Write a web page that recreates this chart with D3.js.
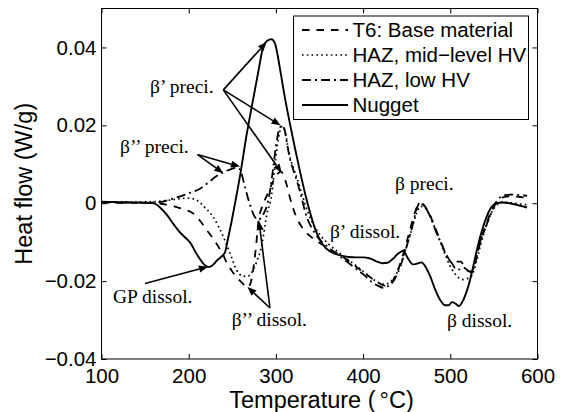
<!DOCTYPE html>
<html>
<head>
<meta charset="utf-8">
<script src="https://cdn.jsdelivr.net/npm/d3@7"></script>
<style>
  html, body { margin: 0; padding: 0; background: #fff; }
  svg { display: block; }
</style>
</head>
<body>
<svg id="chart" width="568" height="412"></svg>
<script>
// ---------------- data ----------------
const xTicks = [100, 200, 300, 400, 500, 600];
const yTicks = [-0.04, -0.02, 0, 0.02, 0.04];
const yTickLabels = ["\u22120.04", "\u22120.02", "0", "0.02", "0.04"];

const seriesNames = ["T6: Base material", "HAZ, mid\u2212level HV", "HAZ, low HV", "Nugget"];

// T6: Base material (dashed)
const t6T = [100,120,140,160,170,178,186,195,205,213,220,227,233,239,244,249,253,257,261,265,268,271,274,277,280,284,288,292,296,300,303,306,309,312,316,320,325,331,338,346,356,368,380,392,402,410,417,422,427,432,438,444,450,455,460,465,469,474,480,486,492,498,503,508,512,516,521,525,530,535,541,547,553,560,570,580,588];
const t6V = [0.0002,0.0001,0.0001,0.0000,-0.0002,-0.0006,-0.0010,-0.0016,-0.0026,-0.0045,-0.0067,-0.0088,-0.0108,-0.0130,-0.0155,-0.0172,-0.0185,-0.0195,-0.0204,-0.0212,-0.0216,-0.0205,-0.0170,-0.0115,-0.0047,-0.0010,0.0012,0.0032,0.0052,0.0070,0.0078,0.0081,0.0070,0.0050,0.0015,-0.0015,-0.0043,-0.0065,-0.0082,-0.0096,-0.0110,-0.0126,-0.0143,-0.0163,-0.0180,-0.0193,-0.0203,-0.0210,-0.0212,-0.0205,-0.0182,-0.0145,-0.0100,-0.0058,-0.0020,0.0000,-0.0004,-0.0018,-0.0048,-0.0082,-0.0115,-0.0142,-0.0155,-0.0150,-0.0150,-0.0162,-0.0175,-0.0175,-0.0140,-0.0095,-0.0055,-0.0020,0.0005,0.0015,0.0018,0.0016,0.0014];

// HAZ, mid-level HV (dotted)
const midT = [100,120,140,160,175,188,198,206,212,218,228,240,248,255,262,267,271,278,284,289.5,295,299.5,304,307.5,310.5,313.5,317,321,326,331,337,344,352,362,373,383,393,403,412,420,426,432,438,444,450,456,461,466,470,475,481,487,493,499,505,510,515,520,525,530,535,541,547,553,560,570,580,588];
const midV = [0.0003,0.0003,0.0003,0.0004,0.0007,0.0011,0.0013,0.0011,0.0004,-0.0010,-0.0035,-0.0088,-0.0132,-0.0172,-0.0187,-0.0188,-0.0182,-0.0150,-0.0105,-0.0030,0.0020,0.0110,0.0180,0.0197,0.0185,0.0148,0.0112,0.0085,0.0052,0.0015,-0.0025,-0.0058,-0.0085,-0.0108,-0.0128,-0.0145,-0.0162,-0.0180,-0.0196,-0.0206,-0.0208,-0.0200,-0.0182,-0.0150,-0.0110,-0.0065,-0.0028,-0.0008,-0.0010,-0.0025,-0.0055,-0.0090,-0.0125,-0.0158,-0.0180,-0.0192,-0.0196,-0.0193,-0.0185,-0.0150,-0.0105,-0.0060,-0.0025,-0.0005,0.0003,0.0001,-0.0002,-0.0004];

// HAZ, low HV (dash-dot)
const lowT = [100,115,130,145,160,172,182,192,202,212,222,232,240,248,255,259,264,270,275,280,284.5,288,292,296,300,303.5,307,310,313,316,320,324,328,335,342,350,360,373,383,393,403,411,418,423,428,434,440,446,452,457,461,465,469,473,479,484,490,496,502,507,511,515,520,524.5,529,534,540,545.5,551,557,563,570,580,588];
const lowV = [0.0003,0.0002,0.0002,0.0001,0.0002,0.0005,0.0012,0.0019,0.0027,0.0036,0.0052,0.0070,0.0080,0.0087,0.0091,0.0086,0.0046,-0.0002,-0.0032,-0.0043,-0.0032,-0.0017,0.0015,0.0075,0.0145,0.0188,0.0200,0.0188,0.0150,0.0115,0.0085,0.0058,0.0027,-0.0033,-0.0067,-0.0093,-0.0113,-0.0136,-0.0153,-0.0170,-0.0188,-0.0204,-0.0213,-0.0217,-0.0214,-0.0203,-0.0178,-0.0140,-0.0095,-0.0055,-0.0018,0.0001,-0.0003,-0.0016,-0.0045,-0.0075,-0.0105,-0.0136,-0.0155,-0.0170,-0.0170,-0.0165,-0.0172,-0.0178,-0.0148,-0.0101,-0.0065,-0.0033,-0.0005,0.0015,0.0021,0.0022,0.0021,0.0019];

// Nugget (solid)
const nugT = [100,115,130,145,155,161,168,175,183,190,196,202,207,213,219,223,227,232,237,241.6,245,249,254,259,266,274,280,285.5,290,295,299,304.7,310,316,322,328,334,340,346,352,358,366,374,383,392,400,408,416,422,428,434,440,446,451,457,462,467,472,477,482,488,494,498,502,506,510,515,519,523,527,531,538,545,553,560,568,576,583,588];
const nugV = [0.0004,0.0003,0.0002,0.0002,0.0001,-0.0001,-0.0013,-0.0030,-0.0055,-0.0075,-0.0088,-0.0102,-0.0122,-0.0144,-0.0160,-0.0164,-0.0160,-0.0148,-0.0138,-0.0126,-0.0092,-0.0049,0.0010,0.0072,0.0170,0.0268,0.0340,0.0402,0.0417,0.0421,0.0410,0.0345,0.0275,0.0205,0.0140,0.0078,0.0020,-0.0030,-0.0072,-0.0100,-0.0117,-0.0128,-0.0134,-0.0138,-0.0139,-0.0139,-0.0142,-0.0150,-0.0154,-0.0153,-0.0143,-0.0130,-0.0122,-0.0140,-0.0157,-0.0155,-0.0152,-0.0165,-0.0188,-0.0218,-0.0247,-0.0262,-0.0262,-0.0254,-0.0258,-0.0264,-0.0248,-0.0225,-0.0194,-0.0155,-0.0115,-0.0058,-0.0018,0.0000,0.0002,0.0000,-0.0004,-0.0008,-0.0011];

// Annotation labels (data coordinates of text start / baseline)
const labelTexts = ["\u03b2\u2019 preci.", "\u03b2\u2019\u2019 preci.", "GP dissol.", "\u03b2\u2019\u2019 dissol.", "\u03b2\u2019 dissol.", "\u03b2 preci.", "\u03b2 dissol."];
const labelT = [155.6, 121.2, 113.2, 249.3, 362.0, 436.6, 496.2];
const labelV = [0.0283, 0.0129, -0.0256, -0.0315, -0.0089, 0.0034, -0.0318];

// Arrows: from (T, V) to (T, V)
const arrowFromT = [239.7, 239.7, 239.7, 210.1, 210.1, 149.9, 293.2, 293.2];
const arrowFromV = [0.0291, 0.0291, 0.0291, 0.0125, 0.0125, -0.0206, -0.0269, -0.0269];
const arrowToT   = [289.4, 305.3, 306.7, 239.7, 258.8, 222.1, 267.4, 280.6];
const arrowToV   = [0.0414, 0.0200, 0.0078, 0.0077, 0.0094, -0.0163, -0.0215, -0.0046];

// ---------------- drawing ----------------
(function () {
const svg = d3.select("#chart");
const pLeft = 101.5, pRight = 537.5, pTop = 8.5, pBottom = 359;
const x = d3.scaleLinear().domain([100, 600]).range([pLeft, pRight]);
const y = d3.scaleLinear().domain([-0.04, 0.05]).range([pBottom, pTop]);

const sansFont = "'Liberation Sans', Arial, Helvetica, sans-serif";
const serifFont = "'Liberation Serif', 'Times New Roman', serif";

svg.append("rect").attr("width", 568).attr("height", 412).attr("fill", "#fff");

svg.append("defs").append("clipPath").attr("id", "plotclip")
  .append("rect").attr("x", pLeft).attr("y", pTop).attr("width", pRight - pLeft).attr("height", pBottom - pTop);

const styles = [
  { dash: "7.5,7", width: 1.8 },
  { dash: "1.6,3.2", width: 1.7 },
  { dash: "9,4,2,4", width: 1.8 },
  { dash: null, width: 1.9 }
];
const seriesData = [
  d3.zip(t6T, t6V),
  d3.zip(midT, midV),
  d3.zip(lowT, lowV),
  d3.zip(nugT, nugV)
];

const line = d3.line().x(d => x(d[0])).y(d => y(d[1])).curve(d3.curveMonotoneX);
const plot = svg.append("g").attr("clip-path", "url(#plotclip)");
seriesData.forEach((data, i) => {
  plot.append("path")
    .attr("d", line(data))
    .attr("fill", "none")
    .attr("stroke", "#000")
    .attr("stroke-width", styles[i].width)
    .attr("stroke-dasharray", styles[i].dash)
    .attr("stroke-linejoin", "round");
});

// Axes with inward ticks on all four sides
const tickLen = 5;
const xAxisB = d3.axisBottom(x).tickValues(xTicks).tickSize(-tickLen).tickPadding(9).tickFormat(d3.format("d"));
const xAxisT = d3.axisTop(x).tickValues(xTicks).tickSize(-tickLen).tickFormat("");
const yAxisL = d3.axisLeft(y).tickValues(yTicks).tickSize(-tickLen).tickPadding(5).tickFormat((d, i) => yTickLabels[i]);
const yAxisR = d3.axisRight(y).tickValues(yTicks).tickSize(-tickLen).tickFormat("");

function styleAxis(g) {
  g.select(".domain").remove();
  g.selectAll(".tick line").attr("stroke", "#000").attr("stroke-width", 1);
  g.selectAll(".tick text").attr("fill", "#000").attr("font-family", sansFont).attr("font-size", 20.5);
}
svg.append("g").attr("transform", `translate(0,${pBottom})`).call(xAxisB).call(styleAxis);
svg.append("g").attr("transform", `translate(0,${pTop})`).call(xAxisT).call(styleAxis);
svg.append("g").attr("transform", `translate(${pLeft},0)`).call(yAxisL).call(styleAxis);
svg.append("g").attr("transform", `translate(${pRight},0)`).call(yAxisR).call(styleAxis);
svg.append("rect").attr("x", pLeft).attr("y", pTop).attr("width", pRight - pLeft).attr("height", pBottom - pTop)
  .attr("fill", "none").attr("stroke", "#000").attr("stroke-width", 1);

// Axis titles
const xl = svg.append("text")
  .attr("x", (pLeft + pRight) / 2 + 2).attr("y", 407.5)
  .attr("text-anchor", "middle")
  .attr("font-family", sansFont).attr("font-size", 23.5).attr("fill", "#000");
xl.append("tspan").text("Temperature (");
xl.append("tspan").attr("dx", 4).text("\u00b0C)");

svg.append("text")
  .attr("transform", `translate(32,${(pTop + pBottom) / 2}) rotate(-90)`)
  .attr("text-anchor", "middle")
  .attr("font-family", sansFont).attr("font-size", 23.5).attr("fill", "#000")
  .text("Heat flow (W/g)");

// Annotation arrows
const ann = svg.append("g");
arrowFromT.forEach((ft, i) => {
  const x1 = x(ft), y1 = y(arrowFromV[i]), x2 = x(arrowToT[i]), y2 = y(arrowToV[i]);
  const ang = Math.atan2(y2 - y1, x2 - x1);
  const L = 9, W = 3.6;
  const bx = x2 - L * Math.cos(ang), by = y2 - L * Math.sin(ang);
  ann.append("line").attr("x1", x1).attr("y1", y1).attr("x2", bx).attr("y2", by)
    .attr("stroke", "#000").attr("stroke-width", 1.6);
  const nx = -Math.sin(ang), ny = Math.cos(ang);
  ann.append("path")
    .attr("d", `M${x2},${y2}L${bx + W * nx},${by + W * ny}L${bx - W * nx},${by - W * ny}Z`)
    .attr("fill", "#000");
});

// Annotation labels
labelTexts.forEach((t, i) => {
  ann.append("text")
    .attr("x", x(labelT[i])).attr("y", y(labelV[i]))
    .attr("font-family", serifFont).attr("font-size", 19.5).attr("fill", "#000")
    .text(t);
});

// Legend
const lg = svg.append("g");
lg.append("rect").attr("x", 293.5).attr("y", 16).attr("width", 235).attr("height", 103.5)
  .attr("fill", "#fff").attr("stroke", "#000").attr("stroke-width", 1);
seriesNames.forEach((name, i) => {
  const cy = 30 + i * 25;
  lg.append("line").attr("x1", 302).attr("x2", 348).attr("y1", cy).attr("y2", cy)
    .attr("stroke", "#000").attr("stroke-width", styles[i].width)
    .attr("stroke-dasharray", styles[i].dash);
  lg.append("text").attr("x", 352.5).attr("y", cy + 7.3)
    .attr("font-family", sansFont).attr("font-size", 20.5).attr("fill", "#000")
    .text(name);
});
})();
</script>
</body>
</html>
